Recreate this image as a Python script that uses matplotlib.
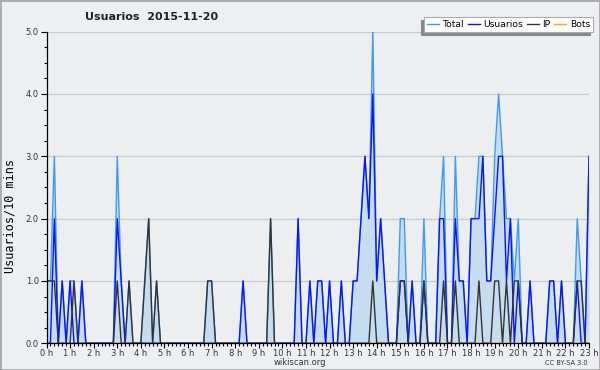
import matplotlib
matplotlib.use('Agg')
import matplotlib.pyplot as plt
from matplotlib.patches import Rectangle
from matplotlib.ticker import MultipleLocator, FixedLocator
import numpy as np

# ---------------------------------------------------------------------------
# Data: editions per 10-minute slot, 2015-11-20 (00:00 .. 23:00)
# ---------------------------------------------------------------------------
usuarios = [
    0, 0, 2, 0, 1, 0, 1, 0, 0, 1, 0, 0,
    0, 0, 0, 0, 0, 0, 2, 1, 0, 0, 0, 0,
    0, 0, 0, 0, 0, 0, 0, 0, 0, 0, 0, 0,
    0, 0, 0, 0, 0, 0, 0, 0, 0, 0, 0, 0,
    0, 0, 1, 0, 0, 0, 0, 0, 0, 0, 0, 0,
    0, 0, 0, 0, 2, 0, 0, 1, 0, 1, 1, 0,
    1, 0, 0, 1, 0, 0, 1, 1, 2, 3, 2, 4,
    1, 2, 1, 0, 0, 0, 1, 1, 0, 1, 0, 0,
    1, 0, 0, 0, 2, 2, 0, 0, 2, 1, 1, 0,
    2, 2, 2, 3, 1, 1, 2, 3, 3, 1, 2, 0,
    1, 0, 0, 1, 0, 0, 0, 0, 1, 1, 0, 1,
    0, 0, 0, 1, 0, 0, 3,
]
ip = [
    1, 1, 1, 0, 0, 0, 0, 1, 0, 0, 0, 0,
    0, 0, 0, 0, 0, 0, 1, 0, 0, 1, 0, 0,
    0, 1, 2, 0, 1, 0, 0, 0, 0, 0, 0, 0,
    0, 0, 0, 0, 0, 1, 1, 0, 0, 0, 0, 0,
    0, 0, 0, 0, 0, 0, 0, 0, 0, 2, 0, 0,
    0, 0, 0, 0, 0, 0, 0, 0, 0, 0, 0, 0,
    0, 0, 0, 0, 0, 0, 0, 0, 0, 0, 0, 1,
    0, 0, 0, 0, 0, 0, 1, 1, 0, 0, 0, 0,
    1, 0, 0, 0, 0, 1, 0, 0, 1, 0, 0, 0,
    0, 0, 1, 0, 0, 0, 1, 1, 0, 1, 0, 1,
    1, 0, 0, 0, 0, 0, 0, 0, 0, 0, 0, 0,
    0, 0, 0, 1, 1, 0, 0,
]
total = [
    1, 1, 3, 0, 1, 0, 1, 1, 0, 1, 0, 0,
    0, 0, 0, 0, 0, 0, 3, 1, 0, 1, 0, 0,
    0, 1, 2, 0, 1, 0, 0, 0, 0, 0, 0, 0,
    0, 0, 0, 0, 0, 1, 1, 0, 0, 0, 0, 0,
    0, 0, 1, 0, 0, 0, 0, 0, 0, 2, 0, 0,
    0, 0, 0, 0, 2, 0, 0, 1, 0, 1, 1, 0,
    1, 0, 0, 1, 0, 0, 1, 1, 2, 3, 2, 5,
    1, 2, 1, 0, 0, 0, 2, 2, 0, 1, 0, 0,
    2, 0, 0, 0, 2, 3, 0, 0, 3, 1, 1, 0,
    2, 2, 3, 3, 1, 1, 3, 4, 3, 2, 2, 1,
    2, 0, 0, 1, 0, 0, 0, 0, 1, 1, 0, 1,
    0, 0, 0, 2, 1, 0, 3,
]
bots = [
    0, 0, 0, 0, 0, 0, 0, 0, 0, 0, 0, 0,
    0, 0, 0, 0, 0, 0, 0, 0, 0, 0, 0, 0,
    0, 0, 0, 0, 0, 0, 0, 0, 0, 0, 0, 0,
    0, 0, 0, 0, 0, 0, 0, 0, 0, 0, 0, 0,
    0, 0, 0, 0, 0, 0, 0, 0, 0, 0, 0, 0,
    0, 0, 0, 0, 0, 0, 0, 0, 0, 0, 0, 0,
    0, 0, 0, 0, 0, 0, 0, 0, 0, 0, 0, 0,
    0, 0, 0, 0, 0, 0, 0, 0, 0, 0, 0, 0,
    0, 0, 0, 0, 0, 0, 0, 0, 0, 0, 0, 0,
    0, 0, 0, 0, 0, 0, 0, 0, 0, 0, 0, 0,
    0, 0, 0, 0, 0, 0, 0, 0, 0, 0, 0, 0,
    0, 0, 0, 0, 0, 0, 0,
]
hour_labels = [f'{h} h' for h in range(24)]

# time axis in hours, one slot every 10 minutes
horas = np.arange(len(total)) / 6.0

# ---------------------------------------------------------------------------
# Palette
# ---------------------------------------------------------------------------
BG = '#eeeff1'
PLOT_BG = '#eceef0'
FILL = '#c6dcef'
C_TOTAL = '#3d9bf5'
C_USER = '#0a14ff'
C_IP = '#333333'
C_BOTS = '#ffa31a'
GRID = '#cbcbcb'
TXT = '#333333'

# ---------------------------------------------------------------------------
# Canvas
# ---------------------------------------------------------------------------
fig = plt.figure(figsize=(6.0, 3.7), dpi=100)
fig.patch.set_facecolor(BG)
ax = fig.add_axes([0.0775, 0.0722, 0.9042, 0.8422])
ax.set_facecolor(PLOT_BG)

ax.fill_between(horas, total, 0, color=FILL, lw=0, zorder=1)
l_tot, = ax.plot(horas, total, color=C_TOTAL, lw=1.0, zorder=2)
l_usr, = ax.plot(horas, usuarios, color=C_USER, lw=1.0, zorder=2.1)
l_ip, = ax.plot(horas, ip, color=C_IP, lw=1.0, zorder=2.2)
l_bot, = ax.plot(horas, bots, color=C_BOTS, lw=1.0, zorder=1.5)

ax.set_xlim(0, 23)
ax.set_ylim(0, 5)

# grid
for yv in range(1, 6):
    ax.axhline(yv, color=GRID, lw=0.9, zorder=0.5)

# spines
for s in ('top', 'right'):
    ax.spines[s].set_visible(False)
for s in ('left', 'bottom'):
    ax.spines[s].set_color('black')
    ax.spines[s].set_linewidth(0.9)
    ax.spines[s].set_zorder(3)

# ticks
ax.xaxis.set_major_locator(FixedLocator(range(24)))
ax.set_xticklabels(hour_labels)
ax.xaxis.set_minor_locator(MultipleLocator(1 / 6))
ax.yaxis.set_major_locator(MultipleLocator(1))
ax.yaxis.set_minor_locator(MultipleLocator(0.25))
ax.set_yticklabels([f'{v:.1f}' for v in ax.get_yticks()])
ax.tick_params(axis='both', which='major', labelsize=6, colors='black',
               labelcolor=TXT, width=0.8)
ax.tick_params(axis='x', which='major', length=3.5, pad=0.3)
ax.tick_params(axis='y', which='major', length=4.5, pad=1)
ax.tick_params(axis='x', which='minor', length=2, width=0.8)
ax.tick_params(axis='y', which='minor', length=2.5, width=0.8)

# y label sits a bit below the axis centre, as in the reference
fig.text(0.016, 0.415, 'Usuarios/10 mins', rotation=90, fontsize=8.5,
         fontfamily='DejaVu Sans Mono', color='black', ha='center', va='center')

# ---------------------------------------------------------------------------
# Texts
# ---------------------------------------------------------------------------
fig.text(0.252, 0.953, 'Usuarios  2015-11-20', fontsize=8, fontweight='bold',
         ha='center', va='center', color='#222222')
fig.text(0.5, 0.019, 'wikiscan.org', fontsize=6, ha='center', va='center', color=TXT)
fig.text(0.98, 0.019, 'CC BY-SA 3.0', fontsize=4.8, ha='right', va='center', color=TXT)

# legend
leg = fig.legend([l_tot, l_usr, l_ip, l_bot], ['Total', 'Usuarios', 'IP', 'Bots'],
                 loc='upper right', bbox_to_anchor=(0.988, 0.954), ncol=4,
                 fontsize=6.6, handlelength=1.3, handletextpad=0.4, columnspacing=0.4,
                 borderpad=0.3, borderaxespad=0, fancybox=False, framealpha=1,
                 edgecolor='#aaaaaa', facecolor='white',
                 shadow={'ox': -2.2, 'oy': -2.2, 'color': '#888888', 'alpha': 1})
leg.get_frame().set_linewidth(0.8)

# outer border
fig.patches.append(Rectangle((0, 0), 1, 1, transform=fig.transFigure, fill=False,
                             edgecolor='#aaaaaa', lw=2, zorder=10))

plt.savefig('out.png', dpi=100, facecolor=BG)
